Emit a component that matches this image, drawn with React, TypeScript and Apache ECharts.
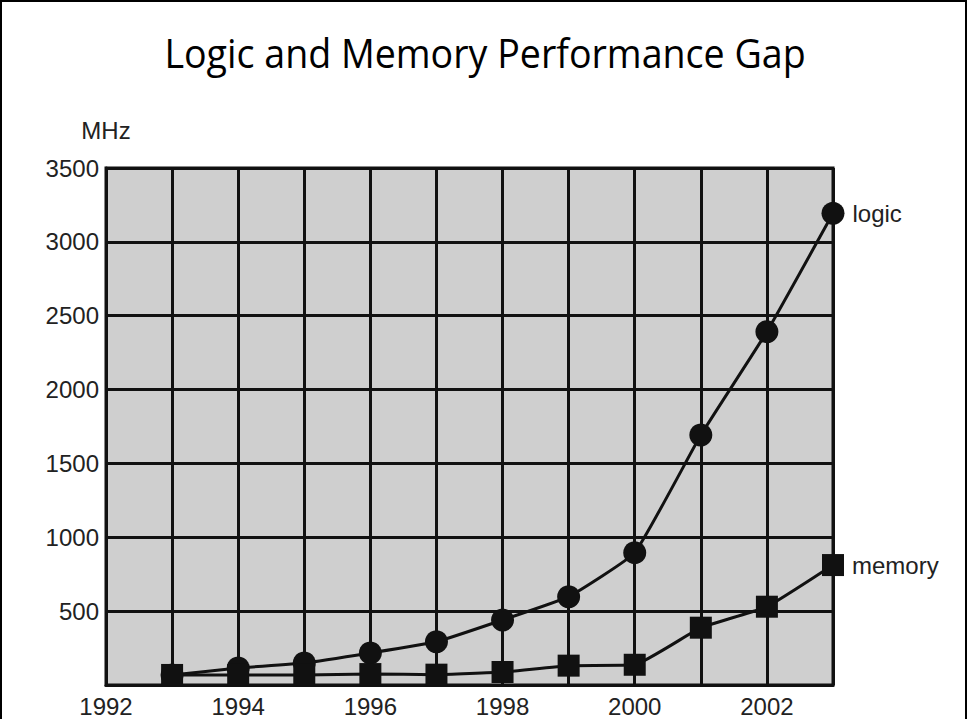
import React, { useEffect, useRef } from "react";
import * as echarts from "echarts";

const years = [1993, 1994, 1995, 1996, 1997, 1998, 1999, 2000, 2001, 2002, 2003];
const logicMHz = [68, 115, 149, 217, 293, 440, 598, 896, 1692, 2392, 3193];
const memoryMHz = [68, 68, 68, 74, 70, 88, 131, 137, 388, 530, 812];
const xTickLabels = ["1992", "1994", "1996", "1998", "2000", "2002"];
const yTickLabels = ["500", "1000", "1500", "2000", "2500", "3000", "3500"];
const seriesNames = ["logic", "memory"];
const titleText = "Logic and Memory Performance Gap";

export default function App() {
  const ref = useRef<HTMLDivElement>(null);
  useEffect(() => {
    if (!ref.current) return;
    const chart = echarts.init(ref.current, null, { renderer: "svg" });
    const ink = "#111111";
    const font = "'Liberation Sans', Arial, Helvetica, sans-serif";
    const mkData = (vals: number[], name: string) =>
      vals.map((v, i) => {
        const item: any = { value: [years[i], v] };
        if (i === vals.length - 1) {
          item.label = {
            show: true,
            position: "right",
            distance: 8,
            formatter: name,
            color: "#222",
            fontSize: 24,
            fontFamily: font,
          };
        }
        return item;
      });
    chart.setOption({
      animation: false,
      backgroundColor: "#ffffff",
      graphic: [
        {
          type: "rect",
          shape: { x: 1, y: 1, width: 965, height: 740 },
          style: { fill: "none", stroke: "#000", lineWidth: 2 },
          silent: true,
        },
        {
          type: "text",
          x: 485,
          y: 53,
          scaleX: 0.94,
          style: {
            text: titleText,
            fill: "#000",
            fontSize: 40,
            fontFamily: "'Open Sans', sans-serif",
            align: "center",
            verticalAlign: "middle",
          },
        },
      ],
      grid: {
        left: 106,
        top: 168,
        right: 134,
        bottom: 34,
        outerBoundsMode: "none",
        containLabel: false,
        show: true,
        backgroundColor: "#cfcfcf",
        borderColor: ink,
        borderWidth: 3,
      },
      xAxis: {
        type: "value",
        min: 1992,
        max: 2003,
        interval: 1,
        axisLine: { show: true, lineStyle: { color: ink, width: 3 } },
        axisTick: { show: false },
        splitLine: { show: true, lineStyle: { color: ink, width: 3 } },
        axisLabel: {
          margin: 10,
          fontSize: 24,
          lineHeight: 22,
          color: "#222",
          fontFamily: font,
          showMaxLabel: true,
          formatter: (v: number) => (xTickLabels.includes(String(v)) ? String(v) : ""),
        },
      },
      yAxis: {
        type: "value",
        min: 0,
        max: 3500,
        interval: 500,
        name: "MHz",
        nameLocation: "end",
        nameGap: 26,
        nameTextStyle: { fontSize: 24, color: "#222", fontFamily: font, align: "center" },
        axisLine: { show: true, lineStyle: { color: ink, width: 3 } },
        axisTick: { show: false },
        splitLine: { show: true, lineStyle: { color: ink, width: 3 } },
        axisLabel: {
          margin: 7,
          fontSize: 24,
          color: "#222",
          fontFamily: font,
          formatter: (v: number) => (yTickLabels.includes(String(v)) ? String(v) : ""),
        },
      },
      series: [
        {
          name: seriesNames[0],
          type: "line",
          data: mkData(logicMHz, seriesNames[0]),
          smooth: 0.12,
          symbol: "circle",
          symbolSize: 23,
          lineStyle: { color: ink, width: 3 },
          itemStyle: { color: ink },
          z: 3,
        },
        {
          name: seriesNames[1],
          type: "line",
          data: mkData(memoryMHz, seriesNames[1]),
          smooth: 0.12,
          symbol: "rect",
          symbolSize: 22,
          lineStyle: { color: ink, width: 3 },
          itemStyle: { color: ink },
          z: 4,
        },
      ],
    });
    return () => chart.dispose();
  }, []);
  return (
    <div
      ref={ref}
      style={{ position: "fixed", left: 0, top: 0, width: 967, height: 719 }}
    />
  );
}
